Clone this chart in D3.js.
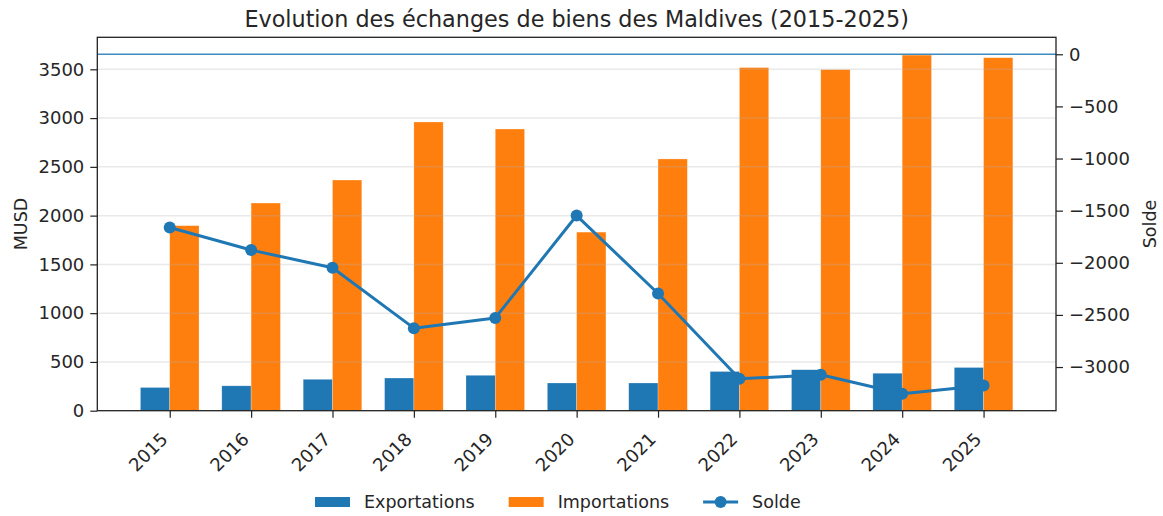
<!doctype html>
<html lang="fr">
<head>
  <meta charset="utf-8">
  <style>
    body { margin: 0; background: #fff; }
    svg text { font-family: "DejaVu Sans", sans-serif; fill: #262626; }
  </style>
</head>
<body>
  <script src="https://d3js.org/d3.v7.min.js"></script>
  <div id="chart"></div>
  <script>
    // data (MUSD)
    var years = ["2015", "2016", "2017", "2018", "2019", "2020", "2021", "2022", "2023", "2024", "2025"];
    var exportations = [238, 255, 322, 335, 363, 284, 284, 402, 420, 384, 443];
    var importations = [1897, 2129, 2365, 2960, 2888, 1831, 2581, 3518, 3497, 3646, 3619];
    var solde = [-1662, -1878, -2047, -2627, -2529, -1547, -2295, -3113, -3074, -3256, -3176];
    var leftTicks = [0, 500, 1000, 1500, 2000, 2500, 3000, 3500];
    var rightTicks = [0, -500, -1000, -1500, -2000, -2500, -3000];

    var width = 1163, height = 516;
    var plot = {left: 97.3, right: 1056, top: 37.3, bottom: 410.7};
    var blue = "#1f77b4", orange = "#ff7f0e";
    var barW = 0.36;

    var svg = d3.select("#chart").append("svg")
        .attr("width", width)
        .attr("height", height);

    var x = d3.scaleLinear()
        .domain([-0.89, years.length - 1 + 0.89])
        .range([plot.left, plot.right]);

    var yMax = d3.max(importations) * 1.05;
    var y = d3.scaleLinear()
        .domain([0, yMax])
        .range([plot.bottom, plot.top]);

    var sMin = d3.min(solde), sPad = -sMin * 0.05;
    var y2 = d3.scaleLinear()
        .domain([sMin - sPad, 0 + sPad])
        .range([plot.bottom, plot.top]);

    // bars
    var bars = svg.append("g");
    bars.selectAll("rect.exp").data(exportations).enter()
      .append("rect").attr("class", "exp")
        .attr("x", function(d, i) { return x(i - barW); })
        .attr("width", x(barW) - x(0))
        .attr("y", function(d) { return y(d); })
        .attr("height", function(d) { return y(0) - y(d); })
        .attr("fill", blue)
        .attr("stroke", "#fff").attr("stroke-opacity", 0.4).attr("stroke-width", 0.6);

    bars.selectAll("rect.imp").data(importations).enter()
      .append("rect").attr("class", "imp")
        .attr("x", function(d, i) { return x(i); })
        .attr("width", x(barW) - x(0))
        .attr("y", function(d) { return y(d); })
        .attr("height", function(d) { return y(0) - y(d); })
        .attr("fill", orange)
        .attr("stroke", "#fff").attr("stroke-opacity", 0.4).attr("stroke-width", 0.6);

    // grid
    svg.append("g").selectAll("line").data(leftTicks.slice(1)).enter()
      .append("line")
        .attr("x1", plot.left).attr("x2", plot.right)
        .attr("y1", function(d) { return y(d); })
        .attr("y2", function(d) { return y(d); })
        .attr("stroke", "#b0b0b0").attr("stroke-opacity", 0.28).attr("stroke-width", 1.5);

    // zero line of the balance
    svg.append("line")
        .attr("x1", plot.left).attr("x2", plot.right)
        .attr("y1", y2(0)).attr("y2", y2(0))
        .attr("stroke", blue).attr("stroke-opacity", 0.85).attr("stroke-width", 1.3);

    // solde line
    var line = d3.line()
        .x(function(d, i) { return x(i); })
        .y(function(d) { return y2(d); });

    svg.append("path")
        .datum(solde)
        .attr("d", line)
        .attr("fill", "none")
        .attr("stroke", blue)
        .attr("stroke-width", 3)
        .attr("stroke-linejoin", "round");

    svg.append("g").selectAll("circle").data(solde).enter()
      .append("circle")
        .attr("cx", function(d, i) { return x(i); })
        .attr("cy", function(d) { return y2(d); })
        .attr("r", 6)
        .attr("fill", blue);

    // frame
    svg.append("rect")
        .attr("x", plot.left).attr("y", plot.top)
        .attr("width", plot.right - plot.left)
        .attr("height", plot.bottom - plot.top)
        .attr("fill", "none").attr("stroke", "#222").attr("stroke-width", 1.3);

    // left axis
    var yAxis = d3.axisLeft(y).tickValues(leftTicks).tickSize(7).tickPadding(6)
        .tickFormat(d3.format("d"));
    var gl = svg.append("g").attr("transform", "translate(" + plot.left + ",0)").call(yAxis);

    // right axis
    var y2Axis = d3.axisRight(y2).tickValues(rightTicks).tickSize(7).tickPadding(6)
        .tickFormat(function(d) { return d3.format("d")(d).replace("-", "\u2212"); });
    var gr = svg.append("g").attr("transform", "translate(" + plot.right + ",0)").call(y2Axis);

    // bottom axis
    var xAxis = d3.axisBottom(x).tickValues(d3.range(years.length)).tickSize(7)
        .tickFormat(function(i) { return years[i]; });
    var gb = svg.append("g").attr("transform", "translate(0," + plot.bottom + ")").call(xAxis);
    gb.selectAll("text")
        .attr("text-anchor", "end")
        .attr("dy", null)
        .attr("y", 0)
        .attr("transform", "translate(-6,25) rotate(-45)")
        .attr("dominant-baseline", "central");

    [gl, gr, gb].forEach(function(g) {
      g.select(".domain").remove();
      g.selectAll("line").attr("stroke", "#222").attr("stroke-width", 1.2);
      g.selectAll("text").style("font-size", "18px").style("font-family", "DejaVu Sans").attr("fill", "#262626");
    });

    // titles
    svg.append("text")
        .attr("x", (plot.left + plot.right) / 2).attr("y", 27)
        .attr("text-anchor", "middle")
        .style("font-size", "22.3px")
        .text("Evolution des \u00e9changes de biens des Maldives (2015-2025)");

    svg.append("text")
        .attr("transform", "translate(27," + (plot.top + plot.bottom) / 2 + ") rotate(-90)")
        .attr("text-anchor", "middle")
        .style("font-size", "17.5px")
        .text("MUSD");

    svg.append("text")
        .attr("transform", "translate(1156," + (plot.top + plot.bottom) / 2 + ") rotate(-90)")
        .attr("text-anchor", "middle")
        .style("font-size", "17.5px")
        .text("Solde");

    // legend
    var legendItems = [
      {label: "Exportations", type: "patch", color: blue},
      {label: "Importations", type: "patch", color: orange},
      {label: "Solde", type: "line", color: blue}
    ];
    var legend = svg.append("g").attr("transform", "translate(0,502)");
    var lx = 315;
    legendItems.forEach(function(item) {
      var g = legend.append("g").attr("transform", "translate(" + lx + ",0)");
      if (item.type === "patch") {
        g.append("rect").attr("x", 0).attr("y", -5).attr("width", 35).attr("height", 10)
          .attr("fill", item.color);
      } else {
        g.append("line").attr("x1", 0).attr("x2", 35).attr("y1", 0).attr("y2", 0)
          .attr("stroke", item.color).attr("stroke-width", 3);
        g.append("circle").attr("cx", 17.5).attr("cy", 0).attr("r", 6).attr("fill", item.color);
      }
      var t = g.append("text").attr("x", 49).attr("y", 0)
        .attr("dominant-baseline", "central")
        .style("font-size", "17.5px")
        .text(item.label);
      lx += 49 + t.node().getComputedTextLength() + 34;
    });
  </script>
</body>
</html>
